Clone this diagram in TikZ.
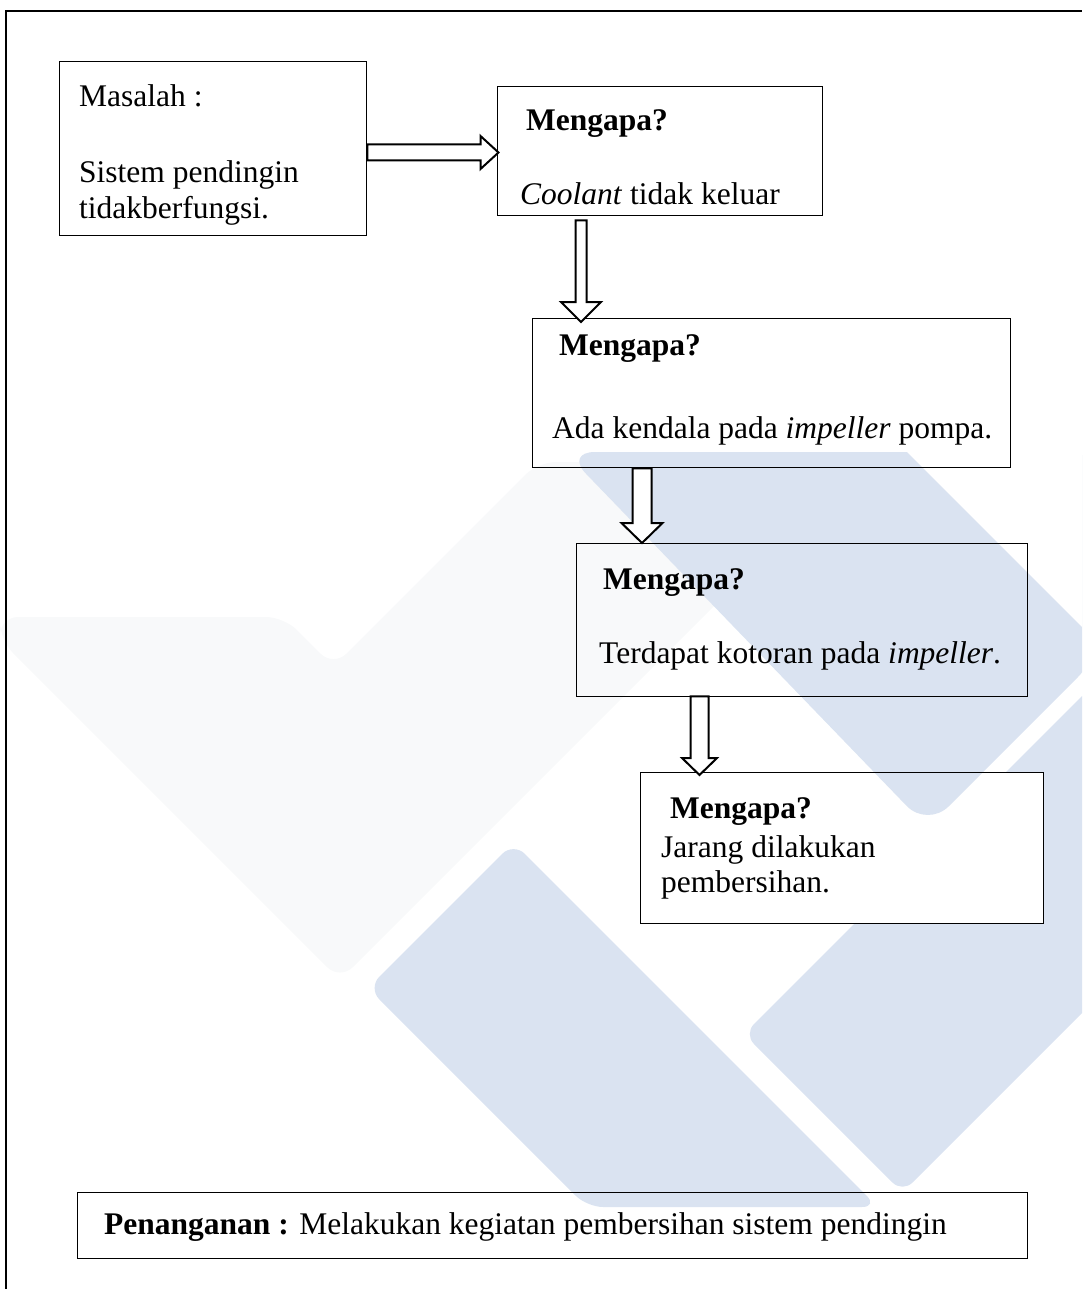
\documentclass[tikz,border=0pt]{standalone}
\usepackage{fontspec}
\setmainfont{Liberation Serif}
\usetikzlibrary{calc}
\pgfdeclarelayer{wmark}
\pgfdeclarelayer{wtop}
\pgfsetlayers{wmark,wtop,main}
\definecolor{wmblue}{RGB}{218,227,241}
\definecolor{wmgray}{RGB}{248,249,250}
\tikzset{
  box/.style={draw=black, line width=1.3pt, inner sep=0pt, anchor=north west},
  txt/.style={anchor=base west, inner sep=0pt, font=\fontsize{31.5}{35}\selectfont},
  blockarr/.style={draw=black, fill=white, line width=2pt, line join=miter},
  wm/.style={fill=wmblue, draw=none},
  frameline/.style={draw=black, line width=2pt},
}
% #1 from node, #2 to node, #3 x coordinate, #4 shaft half width, #5 head half width,
% #6 head length, #7 start offset (down), #8 tip offset (down)
\newcommand\vblock[8]{%
  \draw[blockarr] ($(#1.south -| #3)+(-#4,#7)$) -- ($(#2.north -| #3)+(-#4,#8-#6)$)
    -- ($(#2.north -| #3)+(-#5,#8-#6)$) -- ($(#2.north -| #3)+(0,#8)$)
    -- ($(#2.north -| #3)+(#5,#8-#6)$) -- ($(#2.north -| #3)+(#4,#8-#6)$)
    -- ($(#1.south -| #3)+(#4,#7)$) -- cycle;}
\begin{document}
\begin{tikzpicture}[x=1pt,y=-1pt]
\useasboundingbox (0,0) rectangle (1082,1289);

% outer frame
\draw[frameline] (5.5,1289) -- (5.5,11) -- (1082,11);

% boxes
\node[box, minimum width=307pt, minimum height=174pt] (b1) at (59,61) {};
\node[box, minimum width=325pt, minimum height=129pt] (b2) at (497,86) {};
\node[box, minimum width=478pt, minimum height=149pt] (b3) at (532,318) {};
\node[box, minimum width=451pt, minimum height=153pt] (b4) at (576,543) {};
\node[box, minimum width=403pt, minimum height=151pt] (b5) at (640,772) {};
\node[box, minimum width=950pt, minimum height=66pt] (b6) at (77,1192) {};

% texts
\node[txt] (t1a) at (79,107) {Masalah :};
\node[txt] (t1b) at (79,183) {Sistem pendingin};
\node[txt] (t1c) at (79,219) {tidakberfungsi.};
\node[txt] (t2a) at (526,131) {\textbf{Mengapa?}};
\node[txt] (t2b) at (520,205) {\textit{Coolant} tidak keluar};
\node[txt] (t3a) at (559,355) {\textbf{Mengapa?}};
\node[txt] (t3b) at (552,438) {Ada kendala pada \textit{impeller} pompa.};
\node[txt] (t4a) at (603,589) {\textbf{Mengapa?}};
\node[txt] (t4b) at (599,663) {Terdapat kotoran pada \textit{impeller}.};
\node[txt] (t5a) at (670,818) {\textbf{Mengapa?}};
\node[txt] (t5b) at (661,857) {Jarang dilakukan};
\node[txt] (t5c) at (661,892) {pembersihan.};
\node[txt] (t6) at (104,1234) {\textbf{Penanganan :} Melakukan kegiatan pembersihan sistem pendingin};

% block arrows
\coordinate (ya1) at (0,152.5);
\draw[blockarr] ($(b1.east |- ya1)+(0,-8)$) -- ($(b2.west |- ya1)+(-16.5,-8)$)
  -- ($(b2.west |- ya1)+(-16.5,-16.5)$) -- ($(b2.west |- ya1)+(1.5,0)$)
  -- ($(b2.west |- ya1)+(-16.5,16.5)$) -- ($(b2.west |- ya1)+(-16.5,8)$)
  -- ($(b1.east |- ya1)+(0,8)$) -- cycle;
\coordinate (xa2) at (581,0);
\vblock{b2}{b3}{xa2}{5.5}{20}{20}{4}{4}
\coordinate (xa3) at (642,0);
\vblock{b3}{b4}{xa3}{9.5}{20.5}{20}{0}{0}
\coordinate (xa4) at (699.5,0);
\vblock{b4}{b5}{xa4}{9}{17.5}{17}{-1}{3}

% watermark
\begin{pgfonlayer}{wmark}
\begin{scope}
\clip (0,0) rectangle (1082,1289);
\fill[wmgray, rounded corners=18pt] (0,617) -- (284,617) -- (333.5,666.5) -- (538,462)
  -- (858,462) -- (340,980) -- (0,640) -- cycle;
\fill[wm, rounded corners=16pt] (587,1207) -- (368,988) -- (513.5,842.5) -- (878,1207) -- cycle;
\fill[wm, rounded corners=14pt] (744,1034) -- (1150,628) -- (1150,945) -- (902.5,1192.5) -- cycle;
\end{scope}
\end{pgfonlayer}
\begin{pgfonlayer}{wtop}
\fill[white] (b5.south west) rectangle (b5.north east);
\begin{scope}
\clip (0,0) rectangle (1082,1289);
\fill[wm, rounded corners=30pt] (565,452) -- (1099,452) -- (1099,656) -- (927.5,827.5) -- cycle;
\fill[white] (895,440) -- (1120,440) -- (1120,665) -- cycle;
\end{scope}
\end{pgfonlayer}
\end{tikzpicture}
\end{document}
